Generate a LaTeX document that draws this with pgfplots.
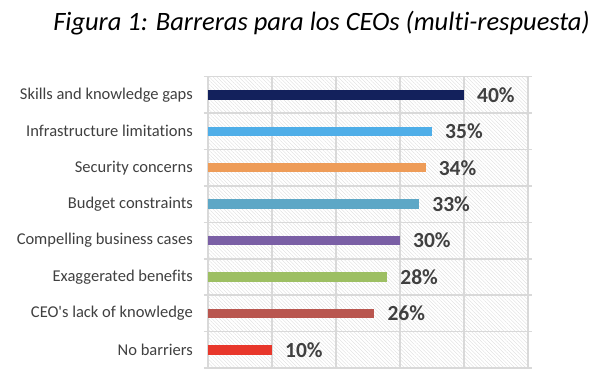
\documentclass[border=0pt]{standalone}
\usepackage{pgfplots}
\pgfplotsset{compat=1.18}
\usepackage{fontspec}
\setmainfont{Carlito}[Ligatures={TeX,NoCommon}]
\usetikzlibrary{patterns.meta}
\definecolor{c1}{HTML}{13215C}
\definecolor{c2}{HTML}{4FAEE8}
\definecolor{c3}{HTML}{EE9C58}
\definecolor{c4}{HTML}{5DA7C6}
\definecolor{c5}{HTML}{7A5FA5}
\definecolor{c6}{HTML}{9DBF63}
\definecolor{c7}{HTML}{B9564F}
\definecolor{c8}{HTML}{E8372B}
\definecolor{gridc}{HTML}{D9D9D9}
\definecolor{labc}{HTML}{404040}
\definecolor{valc}{HTML}{404040}
\begin{document}
\begin{tikzpicture}
\useasboundingbox (-208pt,-18pt) rectangle (392pt,368pt);
\begin{axis}[
  scale only axis, width=320pt, height=291.3pt,
  at={(0pt,0pt)}, anchor=south west,
  xbar, bar shift=0pt, bar width=9.5pt,
  xmin=0, xmax=50, ymin=-0.5, ymax=7.5, y dir=reverse,
  xtick={0,10,...,50}, xticklabels={}, xmajorgrids,
  ytick={0,...,7},
  yticklabels={Skills and knowledge gaps, Infrastructure limitations, Security concerns, Budget constraints, Compelling business cases, Exaggerated benefits, CEO\textquotesingle s lack of knowledge, No barriers},
  minor ytick={-0.5,0.5,...,7.5}, yminorgrids,
  major tick length=0pt, minor tick length=4pt, tick align=outside,
  grid style={draw=gridc, line width=1.5pt},
  minor grid style={draw=gridc, line width=1.5pt},
  axis line style={draw=gridc, line width=1.5pt},
  minor tick style={draw=gridc, line width=1.5pt},
  major tick style={draw=none},
  axis background/.style={pattern={Lines[angle=-45,distance=2.6pt,line width=0.35pt]}, pattern color=black!14},
  yticklabel style={font=\fontsize{16.5}{18}\selectfont, text=labc, inner sep=0pt, xshift=-15pt},
  /pgf/number format/assume math mode=true,
  nodes near coords={\pgfmathprintnumber{\pgfplotspointmeta}\%},
  every node near coord/.append style={font=\bfseries\fontsize{21.5}{24}\selectfont, text=valc, anchor=west, inner sep=0pt, xshift=13pt},
]
\addplot[draw=none, fill=c1] coordinates {(40,0)};
\addplot[draw=none, fill=c2] coordinates {(35,1)};
\addplot[draw=none, fill=c3] coordinates {(34,2)};
\addplot[draw=none, fill=c4] coordinates {(33,3)};
\addplot[draw=none, fill=c5] coordinates {(30,4)};
\addplot[draw=none, fill=c6] coordinates {(28,5)};
\addplot[draw=none, fill=c7] coordinates {(26,6)};
\addplot[draw=none, fill=c8] coordinates {(10,7)};
\end{axis}
\node[font=\itshape\fontsize{26.5}{30}\selectfont, anchor=base] at (113.5pt,337pt) {Figura 1: Barreras para los CEOs (multi-respuesta)};
\end{tikzpicture}
\end{document}
